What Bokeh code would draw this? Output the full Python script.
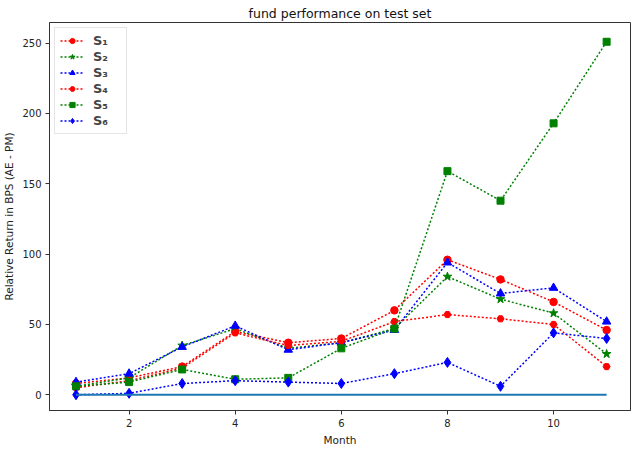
from bokeh.plotting import figure
from bokeh.models import Range1d, SingleIntervalTicker, Legend, LegendItem
from bokeh.embed import file_html
from bokeh.resources import INLINE

months = [1, 2, 3, 4, 5, 6, 7, 8, 9, 10, 11]
s1 = [8, 12, 20, 45, 37, 40, 60, 96, 82, 66, 46]
s2 = [6, 12, 35, 47, 33, 37, 47, 84, 68, 58, 29]
s3 = [9, 15, 34, 49, 32, 37, 46, 94, 72, 76, 52]
s4 = [5, 10, 19, 44, 35, 38, 52, 57, 54, 50, 20]
s5 = [6, 9, 18, 11, 12, 33, 47, 159, 138, 193, 251]
s6 = [0, 1, 8, 10, 9, 8, 15, 23, 6, 44, 40]
zero = [0] * 11
labels = ["S\u2081", "S\u2082", "S\u2083", "S\u2084", "S\u2085", "S\u2086"]

FONT = "DejaVu Sans"

p = figure(width=637, height=452, output_backend="svg", toolbar_location=None,
           x_range=Range1d(0.5, 11.45), y_range=Range1d(-11.2, 264.7),
           min_border_left=49, min_border_right=7, min_border_top=22, min_border_bottom=42)

p.title.text = "fund performance on test set"
p.title.text_font = FONT
p.title.text_font_size = "12.5px"
p.title.text_font_style = "normal"
p.title.text_color = "#111111"
p.title.align = "center"
p.title.standoff = 3

p.xgrid.visible = False
p.ygrid.visible = False
p.outline_line_color = "#333333"
p.outline_line_width = 1

for ax in (p.xaxis[0], p.yaxis[0]):
    ax.axis_line_color = "#333333"
    ax.major_tick_line_color = "#333333"
    ax.minor_tick_line_color = None
    ax.major_tick_out = 4
    ax.major_tick_in = 0
    ax.major_label_text_font = FONT
    ax.major_label_text_font_size = "10px"
    ax.major_label_text_color = "#222222"
    ax.axis_label_text_font = FONT
    ax.axis_label_text_font_size = "10.5px"
    ax.axis_label_text_font_style = "normal"
    ax.axis_label_text_color = "#222222"
    ax.major_label_standoff = 4
    ax.axis_label_standoff = 4

p.xaxis.ticker = SingleIntervalTicker(interval=2)
p.yaxis.ticker = SingleIntervalTicker(interval=50)
p.xaxis.axis_label = "Month"
p.yaxis.axis_label = "Relative Return in BPS (AE - PM)"

red, green, blue = "#ff0000", "#008000", "#0000ff"
dash = "2 2"
lw = 1.5

items = []
specs = [
    (s1, red, "circle", 7.5),
    (s2, green, "star", 9),
    (s3, blue, "triangle", 8.5),
    (s4, red, "hex", 7),
    (s5, green, "square", 7),
    (s6, blue, "diamond", 10),
]
for (ys, col, mk, sz), lab in zip(specs, labels):
    r1 = p.line(months, ys, line_color=col, line_width=lw, line_dash=dash)
    r2 = p.scatter(months, ys, marker=mk, size=sz, fill_color=col, line_color=col)
    items.append(LegendItem(label=lab, renderers=[r1, r2]))

p.line(months, zero, line_color="#1f77b4", line_width=2)

legend = Legend(items=items, location="top_left")
legend.label_text_font = FONT
legend.label_text_font_size = "13px"
legend.label_text_font_style = "bold"
legend.glyph_height = 13
legend.label_height = 13
legend.glyph_width = 24
legend.label_width = 28
legend.label_standoff = 9
legend.spacing = 1
legend.padding = 5
legend.margin = 5
legend.border_line_color = "#cccccc"
legend.border_line_width = 1
legend.background_fill_alpha = 0.8
p.add_layout(legend)

open("out.html", "w").write(file_html(p, INLINE))
